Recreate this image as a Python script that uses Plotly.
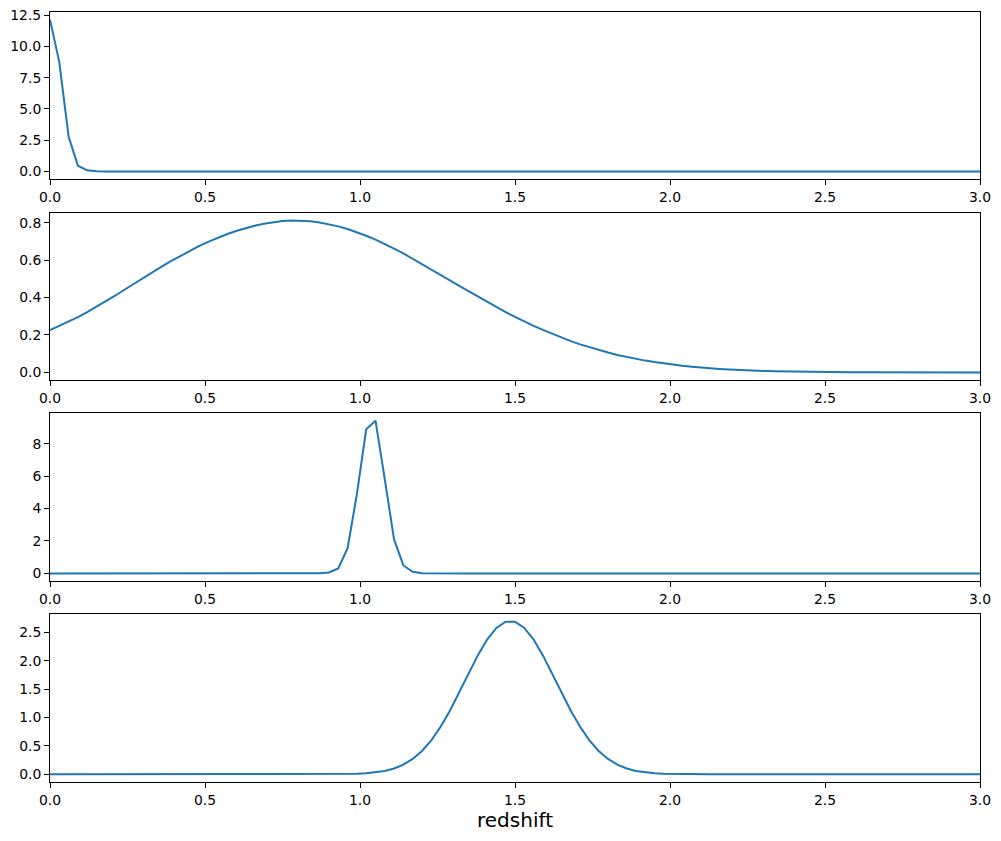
import plotly.graph_objects as go

# redshift grid (step 0.03 from 0 to 3)
redshift = [round(0.03 * i, 2) for i in range(101)]

# panel 1: steep low-z distribution
nz_1 = [12.15, 8.75, 2.80, 0.46, 0.09, 0.01,
        0, 0, 0, 0, 0, 0, 0, 0, 0, 0,
        0, 0, 0, 0, 0, 0, 0, 0, 0, 0,
        0, 0, 0, 0, 0, 0, 0, 0, 0, 0,
        0, 0, 0, 0, 0, 0, 0, 0, 0, 0,
        0, 0, 0, 0, 0, 0, 0, 0, 0, 0,
        0, 0, 0, 0, 0, 0, 0, 0, 0, 0,
        0, 0, 0, 0, 0, 0, 0, 0, 0, 0,
        0, 0, 0, 0, 0, 0, 0, 0, 0, 0,
        0, 0, 0, 0, 0, 0, 0, 0, 0, 0,
        0, 0, 0, 0, 0]

# panel 2: broad distribution
nz_2 = [0.226, 0.248, 0.271, 0.296, 0.322, 0.350, 0.379, 0.410, 0.442, 0.474,
        0.505, 0.536, 0.566, 0.595, 0.623, 0.650, 0.675, 0.698, 0.720, 0.739,
        0.756, 0.771, 0.784, 0.795, 0.803, 0.809, 0.812, 0.811, 0.808, 0.802,
        0.793, 0.781, 0.767, 0.750, 0.731, 0.710, 0.687, 0.662, 0.636, 0.608,
        0.580, 0.551, 0.522, 0.492, 0.463, 0.434, 0.405, 0.377, 0.349, 0.322,
        0.297, 0.272, 0.249, 0.227, 0.206, 0.186, 0.167, 0.150, 0.134, 0.119,
        0.106, 0.093, 0.082, 0.072, 0.063, 0.055, 0.047, 0.041, 0.035, 0.030,
        0.025, 0.021, 0.018, 0.015, 0.012, 0.010, 0.008, 0.007, 0.006, 0.005,
        0.004, 0.003, 0.003, 0.002, 0.002, 0.001, 0.001, 0.001, 0.001,
        0, 0, 0, 0, 0, 0, 0, 0, 0, 0, 0, 0]

# panel 3: narrow peak near z ~ 1.05
nz_3 = [0, 0, 0, 0, 0, 0, 0, 0, 0, 0,
        0, 0, 0, 0, 0, 0, 0, 0, 0, 0,
        0, 0, 0, 0, 0, 0, 0, 0, 0,
        0.01, 0.06, 0.31, 1.55, 4.90, 8.90, 9.43, 5.80, 2.08, 0.49, 0.10, 0.01,
        0, 0, 0, 0, 0, 0, 0, 0, 0, 0,
        0, 0, 0, 0, 0, 0, 0, 0, 0, 0,
        0, 0, 0, 0, 0, 0, 0, 0, 0, 0,
        0, 0, 0, 0, 0, 0, 0, 0, 0, 0,
        0, 0, 0, 0, 0, 0, 0, 0, 0, 0,
        0, 0, 0, 0, 0, 0, 0, 0, 0, 0]

# panel 4: peak near z ~ 1.5
nz_4 = [0, 0, 0, 0, 0, 0, 0, 0, 0, 0,
        0, 0, 0, 0, 0, 0, 0, 0, 0, 0,
        0, 0, 0, 0, 0, 0, 0, 0, 0,
        0.000, 0.001, 0.002, 0.005, 0.009, 0.018, 0.034, 0.061, 0.104, 0.172,
        0.272, 0.412, 0.599, 0.836, 1.120, 1.438, 1.771, 2.092, 2.370, 2.576,
        2.686, 2.686, 2.576, 2.370, 2.092, 1.771, 1.438, 1.120, 0.836, 0.599,
        0.412, 0.272, 0.172, 0.104, 0.061, 0.034, 0.018, 0.009, 0.005, 0.002,
        0.001,
        0, 0, 0, 0, 0, 0, 0, 0, 0, 0,
        0, 0, 0, 0, 0, 0, 0, 0, 0, 0,
        0, 0, 0, 0, 0, 0, 0, 0, 0, 0, 0]

x_ticks = [0.0, 0.5, 1.0, 1.5, 2.0, 2.5, 3.0]
y_ticks_1 = [0.0, 2.5, 5.0, 7.5, 10.0, 12.5]
y_ticks_2 = [0.0, 0.2, 0.4, 0.6, 0.8]
y_ticks_3 = [0, 2, 4, 6, 8]
y_ticks_4 = [0.0, 0.5, 1.0, 1.5, 2.0, 2.5]

series = [nz_1, nz_2, nz_3, nz_4]
for s in series:
    assert len(s) == len(redshift), len(s)

yticks = [(y_ticks_1, ".1f"), (y_ticks_2, ".1f"), (y_ticks_3, "d"), (y_ticks_4, ".1f")]
domains = [[0.7831, 1.0], [0.5221, 0.7390], [0.2610, 0.4792], [0.0, 0.2182]]

font = dict(family="DejaVu Sans", size=13.9, color="black")
common = dict(showline=True, mirror=True, linecolor="black", linewidth=1,
              ticks="outside", ticklen=5, tickwidth=1, tickcolor="black",
              showgrid=False, zeroline=False, tickfont=font, automargin=False)

fig = go.Figure()
layout = dict(width=1001, height=841, paper_bgcolor="white", plot_bgcolor="white",
              margin=dict(l=50, r=21, t=12, b=59, autoexpand=False), showlegend=False)

for k, vals in enumerate(series):
    n = "" if k == 0 else str(k + 1)
    fig.add_trace(go.Scatter(x=redshift, y=vals, mode="lines",
                             line=dict(color="#1f77b4", width=2),
                             xaxis="x" + n, yaxis="y" + n))
    lo, hi = min(vals), max(vals)
    pad = 0.05 * (hi - lo)
    xa = dict(common, domain=[0, 1], anchor="y" + n, range=[0, 3],
              tickvals=x_ticks, tickformat=".1f")
    if k == 3:
        xa["title"] = dict(text="redshift", font=dict(family="DejaVu Sans", size=20, color="black"),
                           standoff=6)
    tv, tf = yticks[k]
    ya = dict(common, domain=domains[k], anchor="x" + n, range=[lo - pad, hi + pad],
              tickvals=tv, tickformat=tf)
    layout["xaxis" + n] = xa
    layout["yaxis" + n] = ya

fig.update_layout(**layout)
fig.write_html("out.html")
